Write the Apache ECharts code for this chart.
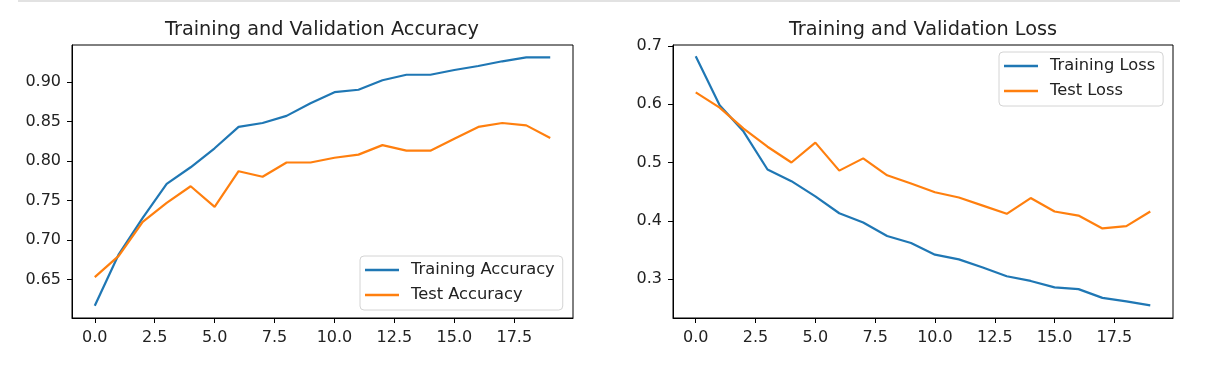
<!DOCTYPE html>
<html>
<head>
<meta charset="utf-8">
<script src="https://cdn.jsdelivr.net/npm/echarts@6/dist/echarts.min.js"></script>
<style>
html,body{margin:0;padding:0;background:#fff;}
#c{width:1208px;height:365px;}
</style>
</head>
<body>
<div id="c"></div>
<script>
const epochs = [0,1,2,3,4,5,6,7,8,9,10,11,12,13,14,15,16,17,18,19];
const trainAcc = [0.617,0.682,0.728,0.771,0.792,0.816,0.843,0.848,0.857,0.873,0.887,0.890,0.902,0.909,0.909,0.915,0.920,0.926,0.931,0.931];
const testAcc  = [0.653,0.680,0.723,0.747,0.768,0.742,0.787,0.780,0.798,0.798,0.804,0.808,0.820,0.813,0.813,0.828,0.843,0.848,0.845,0.829];
const trainLoss = [0.682,0.598,0.553,0.488,0.468,0.442,0.413,0.397,0.374,0.362,0.342,0.334,0.320,0.305,0.297,0.286,0.283,0.268,0.262,0.255];
const testLoss  = [0.620,0.594,0.558,0.527,0.500,0.534,0.486,0.507,0.478,0.464,0.449,0.440,0.426,0.412,0.439,0.416,0.409,0.387,0.391,0.416];
const xTicks = [0,2.5,5,7.5,10,12.5,15,17.5];
const accTicks = [0.65,0.70,0.75,0.80,0.85,0.90];
const lossTicks = [0.3,0.4,0.5,0.6,0.7];

const FONT = 'DejaVu Sans';
const TXT = '#222';
const BLUE = '#1f77b4', ORANGE = '#ff7f0e';

function pairs(ys){ return epochs.map((x,i)=>[x, ys[i]]); }

function xAxisCfg(gi){
  return {
    type:'value', gridIndex:gi, min:-0.95, max:19.95, position:'bottom',
    axisLine:{show:true, onZero:false, lineStyle:{color:'#000',width:1}}, splitLine:{show:false},
    axisTick:{show:true, inside:false, customValues:xTicks, length:5, lineStyle:{color:'#000',width:1}},
    axisLabel:{customValues:xTicks, margin:12, color:TXT, fontFamily:FONT, fontSize:16,
      formatter:v=>Number(v).toFixed(1)}
  };
}
function yAxisCfg(gi,min,max,ticks,dec){
  return {
    type:'value', gridIndex:gi, min:min, max:max, position:'left',
    axisLine:{show:true, onZero:false, lineStyle:{color:'#000',width:1}}, splitLine:{show:false},
    axisTick:{show:true, inside:false, customValues:ticks, length:5, lineStyle:{color:'#000',width:1}},
    axisLabel:{customValues:ticks, margin:11, color:TXT, fontFamily:FONT, fontSize:16,
      formatter:v=>Number(v).toFixed(dec)}
  };
}
function lineSeries(name,data,color,xi){
  return {name:name, type:'line', xAxisIndex:xi, yAxisIndex:xi, data:pairs(data),
    symbol:'none', showSymbol:false, lineStyle:{color:color,width:2.2}, itemStyle:{color:color}, z:3};
}
function legendCfg(names,left,top){
  return {
    data:names, orient:'vertical', left:left, top:top,
    icon:'rect', itemWidth:34, itemHeight:2.4, itemGap:9,
    padding:[6,8,7,5],
    borderColor:'#d4d4d4', borderWidth:1, borderRadius:4, backgroundColor:'rgba(255,255,255,0.85)',
    textStyle:{fontFamily:FONT, fontSize:16.3, color:TXT, lineHeight:16, padding:[0,0,0,7]},
    selectedMode:false
  };
}

const chart = echarts.init(document.getElementById('c'), null, {renderer:'canvas'});
chart.setOption({
  animation:false,
  backgroundColor:'#fff',
  title:[
    {text:'Training and Validation Accuracy', left:317, top:15, textAlign:'center',
      textStyle:{fontFamily:FONT, fontSize:19.3, fontWeight:'normal', color:TXT}},
    {text:'Training and Validation Loss', left:918, top:15, textAlign:'center',
      textStyle:{fontFamily:FONT, fontSize:19.3, fontWeight:'normal', color:TXT}}
  ],
  graphic:[
    {type:'rect', shape:{x:18,y:0,width:1162,height:2}, style:{fill:'#e2e2e2'}, silent:true}
  ],
  grid:[
    {left:72, top:45, width:501, height:273, show:true, borderColor:'#000', borderWidth:1, backgroundColor:'transparent'},
    {left:673, top:45, width:500, height:273, show:true, borderColor:'#000', borderWidth:1, backgroundColor:'transparent'}
  ],
  xAxis:[xAxisCfg(0), xAxisCfg(1)],
  yAxis:[yAxisCfg(0,0.6014,0.9466,accTicks,2), yAxisCfg(1,0.2335,0.7013,lossTicks,1)],
  legend:[
    legendCfg(['Training Accuracy','Test Accuracy'],360,256),
    legendCfg(['Training Loss','Test Loss'],999,52)
  ],
  series:[
    lineSeries('Training Accuracy',trainAcc,BLUE,0),
    lineSeries('Test Accuracy',testAcc,ORANGE,0),
    lineSeries('Training Loss',trainLoss,BLUE,1),
    lineSeries('Test Loss',testLoss,ORANGE,1)
  ]
});
</script>
</body>
</html>
